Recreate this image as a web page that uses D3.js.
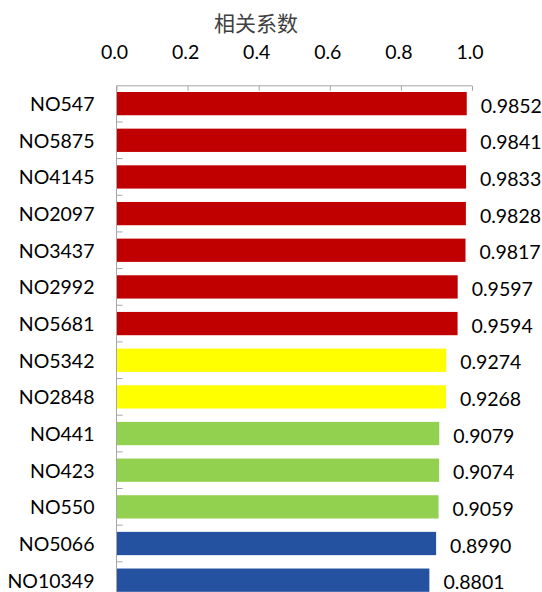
<!DOCTYPE html>
<html>
<head>
<meta charset="utf-8">
<script src="https://cdn.jsdelivr.net/npm/d3@7"></script>
<style>
  html, body { margin: 0; padding: 0; background: #fff; }
  svg { display: block; }
</style>
</head>
<body>
<svg id="chart" width="542" height="592"></svg>
<script>
const categories = ["NO547","NO5875","NO4145","NO2097","NO3437","NO2992","NO5681","NO5342","NO2848","NO441","NO423","NO550","NO5066","NO10349"];
const values = [0.9852,0.9841,0.9833,0.9828,0.9817,0.9597,0.9594,0.9274,0.9268,0.9079,0.9074,0.9059,0.8990,0.8801];
const groups = ["red","red","red","red","red","red","red","yellow","yellow","green","green","green","blue","blue"];
const groupColors = {red:"#C00000", yellow:"#FFFF00", green:"#92D050", blue:"#2452A0"};
const xTicks = [0, 0.2, 0.4, 0.6, 0.8, 1.0];
const axisTitle = "相关系数";

const svg = d3.select("#chart");
const font = "Lato, 'Open Sans', sans-serif";
const fs = 19.5;

const x = d3.scaleLinear().domain([0, 1]).range([116.5, 472]);
const y = d3.scaleBand().domain(categories).range([85.3, 598.5]).paddingInner(0.365).paddingOuter(0.1825);
const axisColor = "#A6A6A6";
const axisY = 85.8;

// bars
svg.append("g").selectAll("rect").data(categories).join("rect")
  .attr("x", x(0))
  .attr("y", d => y(d))
  .attr("width", (d, i) => x(values[i]) - x(0))
  .attr("height", y.bandwidth())
  .attr("fill", (d, i) => groupColors[groups[i]]);

// top axis
const gx = svg.append("g").attr("transform", `translate(0,${axisY})`)
  .call(d3.axisBottom(x).tickValues(xTicks).tickSize(5).tickSizeOuter(5).tickFormat(d3.format(".1f")));
gx.select(".domain").attr("stroke", axisColor).attr("d", `M${x(0)},0H${x(1)}`);
gx.selectAll(".tick line").attr("stroke", axisColor);
gx.selectAll(".tick text").remove();

// top tick labels
svg.append("g").selectAll("text").data(xTicks).join("text")
  .attr("x", d => x(d) - 2)
  .attr("y", 51)
  .attr("text-anchor", "middle")
  .attr("dominant-baseline", "central")
  .attr("font-family", font)
  .attr("font-size", fs)
  .attr("fill", "#000")
  .text(d3.format(".1f"));

// title
svg.append("text")
  .attr("x", 256)
  .attr("y", 22)
  .attr("text-anchor", "middle")
  .attr("dominant-baseline", "central")
  .attr("font-family", "'Noto Sans CJK SC', sans-serif")
  .attr("font-size", 21)
  .attr("fill", "#404040")
  .text(axisTitle);

// left axis
svg.append("line")
  .attr("x1", x(0)).attr("x2", x(0))
  .attr("y1", axisY).attr("y2", 600)
  .attr("stroke", axisColor).attr("stroke-width", 1);
const step = y.step();
svg.append("g").selectAll("line").data(categories).join("line")
  .attr("x1", x(0)).attr("x2", x(0) + 6)
  .attr("y1", d => y(d) - step * y.paddingInner() / 2 + step)
  .attr("y2", d => y(d) - step * y.paddingInner() / 2 + step)
  .attr("stroke", axisColor);

// category labels
svg.append("g").selectAll("text").data(categories).join("text")
  .attr("x", 94.5)
  .attr("y", d => y(d) + y.bandwidth() / 2)
  .attr("text-anchor", "end")
  .attr("dominant-baseline", "central")
  .attr("font-family", font)
  .attr("font-size", fs)
  .attr("fill", "#000")
  .text(d => d);

// value labels
svg.append("g").selectAll("text").data(categories).join("text")
  .attr("x", (d, i) => x(values[i]) + 14)
  .attr("y", d => y(d) + y.bandwidth() / 2 + 1.5)
  .attr("text-anchor", "start")
  .attr("dominant-baseline", "central")
  .attr("font-family", font)
  .attr("font-size", fs)
  .attr("fill", "#000")
  .text((d, i) => d3.format(".4f")(values[i]));
</script>
</body>
</html>
